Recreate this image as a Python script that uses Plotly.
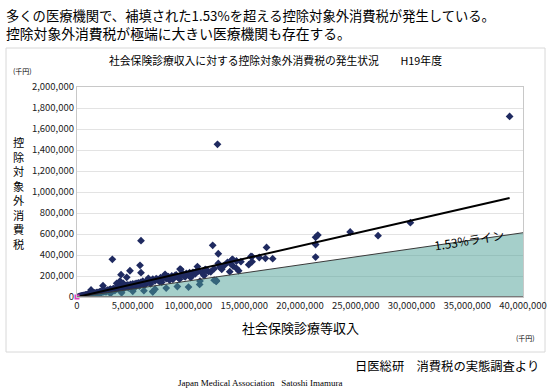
import plotly.graph_objects as go

# ---------------- data (千円) ----------------
# scatter: social insurance revenue (x, millions of 千円) vs non-deductible consumption tax (y, thousands of 千円)
revenue_m = [
    12.6, 5.74, 3.17, 12.17, 12.67, 17.0, 17.55, 5.65, 5.74, 4.75, 3.95, 4.46, 6.79, 12.5,
    9.24, 10.8, 13.9, 15.7, 15.4, 16.35, 2.33,
    21.6, 21.4, 21.4, 21.4, 16.9, 15.6, 15.7, 14.7, 14.3, 14.0, 14.3, 14.5,
    38.8, 29.9, 27.0, 24.5,
    1.26, 3.86, 4.15, 3.56, 6.4, 12.67, 9.3, 7.9, 12.47, 11.03, 9.7, 13.96, 12.98, 13.7,
    11.8, 10.3, 8.6, 7.4,
    0.1, 0.2, 0.3, 0.35, 0.4, 0.5, 0.55, 0.6, 0.7, 0.75, 0.8, 0.9, 1.0, 1.0, 1.1, 1.2, 1.25,
    1.3, 1.4, 1.5, 1.5, 1.6, 1.7, 1.8, 1.9, 2.0, 2.0, 2.1, 2.2, 2.3, 2.4, 2.5, 2.6, 2.7, 2.8,
    2.9, 3.0, 3.0, 3.1, 3.2, 3.3, 3.4, 3.5, 3.6, 3.7, 3.8, 3.9, 4.0, 4.1, 4.2, 4.3, 4.4, 4.5,
    4.6, 4.7, 4.8, 4.9, 5.0, 5.1, 5.2, 5.3, 5.4, 5.5, 5.6, 5.7, 5.8, 5.9, 6.0, 6.1, 6.2, 6.3,
    6.5, 6.6, 6.8, 7.0, 7.1, 7.3, 7.5, 7.6, 7.8, 8.0, 8.2, 8.3, 8.5, 8.7, 8.9, 9.0, 9.2, 9.4,
    9.6, 9.8, 10.0, 10.2, 10.4, 10.6, 10.9, 11.2, 11.4, 11.6, 12.0, 12.3, 12.8, 13.2, 13.5, 13.8,
    1.0, 2.0, 3.0, 4.0, 5.0, 6.0, 7.0, 8.0, 9.0, 10.0, 11.0, 12.5, 12.3, 6.8,
    0.45, 0.65, 0.85, 1.15, 1.35, 1.75, 2.15, 2.45, 2.75, 3.25, 3.55, 3.85, 4.25, 4.65, 5.15,
    5.45, 5.85, 6.25, 6.7, 7.2, 7.7, 8.1, 8.8, 9.5, 10.1, 10.7, 11.5,
]
tax_k = [
    1454, 536, 359, 492, 412, 472, 365, 302, 232, 250, 213, 187, 52, 158,
    266, 290, 355, 384, 308, 376, 107,
    590, 568, 500, 380, 368, 386, 336, 336, 343, 295, 273, 250,
    1720, 708, 584, 619,
    67, 152, 130, 130, 178, 320, 264, 216, 152, 152, 193, 359, 264, 241,
    241, 210, 168, 146,
    2, 5, 8, 5, 10, 12, 8, 15, 14, 20, 17, 22, 20, 28, 25, 30, 22,
    35, 32, 30, 40, 38, 33, 45, 40, 48, 36, 52, 45, 55, 50, 60, 48, 62, 58,
    70, 55, 75, 66, 72, 80, 62, 85, 78, 92, 70, 95, 88, 100, 80, 108, 95, 115,
    88, 105, 120, 98, 125, 110, 90, 130, 118, 135, 105, 140, 125, 150, 130, 115, 145, 160,
    140, 125, 170, 155, 175, 160, 185, 140, 190, 175, 195, 160, 200, 185, 210, 195, 170, 215,
    200, 225, 210, 185, 235, 220, 250, 230, 205, 255, 240, 270, 285, 300, 330, 315,
    10, 22, 33, 40, 55, 60, 75, 85, 100, 95, 120, 150, 160, 50,
    11, 16, 19, 27, 31, 42, 50, 57, 66, 78, 88, 96, 103, 112, 122,
    128, 140, 148, 158, 168, 180, 188, 205, 222, 232, 245, 262,
]
revenue = [v * 1_000_000 for v in revenue_m]
tax = [v * 1_000 for v in tax_k]

# trend line and 1.53% line endpoints
trend_x = [0, 38_800_000]
trend_y = [0, 943_000]
line153_x = [0, 40_000_000]
line153_y = [0, 612_000]
origin_x = [0]
origin_y = [0]

x_ticks = list(range(0, 40_000_001, 5_000_000))
y_ticks = list(range(0, 2_000_001, 200_000))

y_title = "控除対象外消費税"

FONT = "Noto Sans CJK JP"

# plot-area geometry in pixels (used only to place free text in paper coords)
L, R, T, B = 77, 523, 87, 297
def px(xp):
    return (xp - L) / (R - L)
def py(yp):
    return (B - yp) / (B - T)

fig = go.Figure()

fig.add_trace(go.Scatter(
    x=revenue, y=tax, mode="markers",
    marker=dict(symbol="diamond", size=6, color="#1F2A60"),
    showlegend=False, hoverinfo="skip"))

fig.add_trace(go.Scatter(
    x=line153_x, y=line153_y, mode="lines", fill="tozeroy",
    fillcolor="rgba(75,160,150,0.5)",
    line=dict(color="#3A3A3A", width=1),
    showlegend=False, hoverinfo="skip"))

fig.add_trace(go.Scatter(
    x=trend_x, y=trend_y, mode="lines",
    line=dict(color="#000000", width=2),
    showlegend=False, hoverinfo="skip"))

fig.add_trace(go.Scatter(
    x=origin_x, y=origin_y, mode="markers",
    marker=dict(symbol="square", size=5, color="#E040C0"),
    showlegend=False, hoverinfo="skip", cliponaxis=False))

fig.update_xaxes(
    range=[0, 40_000_000], tickvals=x_ticks, tickformat=",d",
    showgrid=False, zeroline=False, automargin=False,
    showline=True, linecolor="#C8C8C8", linewidth=1, mirror=True,
    ticks="", tickfont=dict(family=FONT, size=9.5, color="#222"))
fig.update_yaxes(
    range=[0, 2_000_000], tickvals=y_ticks, tickformat=",d",
    showgrid=True, gridcolor="#E3E3E3", gridwidth=1, zeroline=False, automargin=False,
    showline=True, linecolor="#C8C8C8", linewidth=1, mirror=True,
    ticks="", tickfont=dict(family=FONT, size=9.5, color="#222"))

# darker x axis at zero
fig.add_shape(type="line", xref="paper", yref="y", x0=0, x1=1, y0=0, y1=0,
              line=dict(color="#7A7A7A", width=2))

# outer chart box
fig.add_shape(type="rect", xref="paper", yref="paper",
              x0=px(6), x1=px(545), y0=py(352), y1=py(48),
              line=dict(color="#D8D8D8", width=1), layer="below")

ann = []
def A(text, x, y, size, xanchor="center", yanchor="middle", family=FONT, color="#000", **kw):
    ann.append(dict(text=text, x=x, y=y, xref="paper", yref="paper", showarrow=False,
                    xanchor=xanchor, yanchor=yanchor,
                    font=dict(family=family, size=size, color=color), **kw))

A("多くの医療機関で、補填された1.53%を超える控除対象外消費税が発生している。", px(4), py(15), 13.3, xanchor="left")
A("控除対象外消費税が極端に大きい医療機関も存在する。", px(4), py(33), 13.8, xanchor="left")
A("社会保険診療収入に対する控除対象外消費税の発生状況　　H19年度", px(275), py(60), 10.8)
A("(千円)", px(22), py(71), 7)
A("<br>".join(y_title), px(19), py(193), 11.2, align="center")
A("社会保険診療等収入", px(300), py(327), 13)
A("(千円)", px(525), py(338), 7)
A("日医総研　消費税の実態調査より", px(541), py(366), 12.3, xanchor="right")
A("Japan Medical Association   Satoshi Imamura", px(260), py(383), 9,
  family="Liberation Serif")

ann.append(dict(text="1.53%ライン", x=35_200_000, y=548_000, xref="x", yref="y",
                showarrow=False, textangle=-9,
                font=dict(family=FONT, size=12, color="#000")))

fig.update_layout(
    width=550, height=392,
    margin=dict(l=L, r=550 - R, t=T, b=392 - B, autoexpand=False),
    paper_bgcolor="white", plot_bgcolor="white",
    annotations=ann, showlegend=False,
)

fig.write_html("out.html", config={"displayModeBar": False},
               post_script="document.body.style.margin='0';document.body.style.padding='0';")
